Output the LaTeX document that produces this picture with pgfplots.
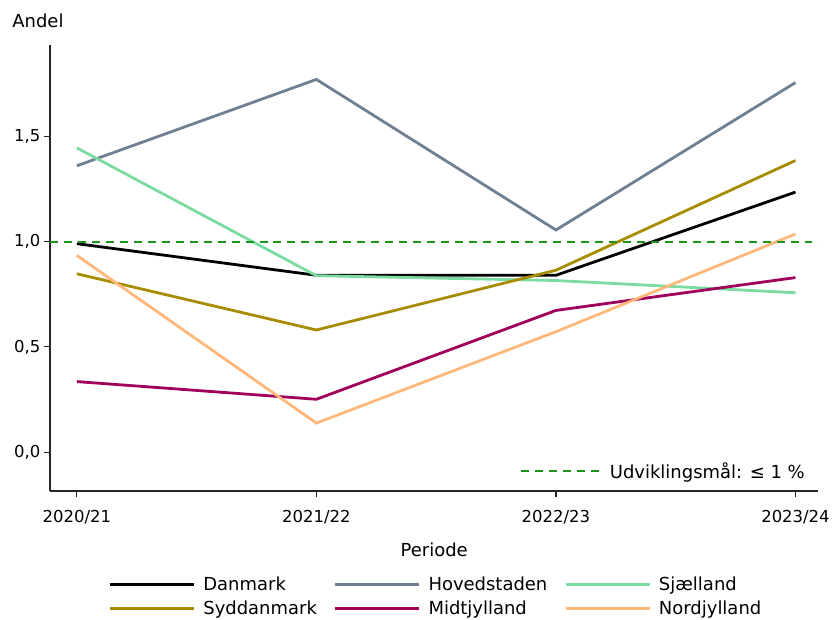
\documentclass[border=0pt]{standalone}
\usepackage{pgfplots}
\pgfplotsset{compat=1.18}
\usepackage{fontspec}
\setmainfont{DejaVu Sans}
\definecolor{cDK}{RGB}{0,0,0}
\definecolor{cHS}{RGB}{110,128,145}
\definecolor{cSJ}{RGB}{123,219,160}
\definecolor{cSD}{RGB}{168,140,0}
\definecolor{cMJ}{RGB}{160,0,90}
\definecolor{cNJ}{RGB}{255,184,122}
\definecolor{cGoal}{RGB}{26,150,26}
\begin{document}
\begin{tikzpicture}[font=\fontsize{18bp}{21bp}\selectfont]
\pgfplotsset{
  base/.style={
    width=770bp, height=447bp, scale only axis,
    xmin=-0.1125, xmax=3.096,
    ymin=-0.185, ymax=1.934,
  }
}
\begin{axis}[base, name=main,
  axis lines*=left,
  axis line style={black!85, line width=1.2bp},
  tick style={black!85, line width=1.2bp},
  tick align=outside,
  major tick length=6bp,
  xtick={0,1,2,3},
  xticklabels={2020/21,2021/22,2022/23,2023/24},
  ytick={0,0.5,1,1.5},
  yticklabel style={/pgf/number format/.cd, fixed, fixed zerofill, precision=1, use comma, assume math mode=true},
  ticklabel style={font=\fontsize{16.5bp}{19bp}\selectfont},
  xticklabel style={yshift=-10bp},
  xlabel={Periode},
  xlabel style={yshift=-12bp},
  legend columns=3,
  legend style={at={(0.503,-0.185)}, anchor=north, draw=none, fill=none,
    inner sep=0pt, row sep=2bp,
    /tikz/every odd column/.append style={column sep=5bp},
    /tikz/every even column/.append style={column sep=14bp},
    nodes={inner sep=3bp, text depth=0.2em}},
  legend cell align=left,
  legend image code/.code={\draw[#1] (0bp,0bp) -- (84bp,0bp);},
  every axis plot/.append style={line width=2.8bp},
]
\addplot[cDK] coordinates {(0,0.990) (1,0.840) (2,0.840) (3,1.235)};
\addlegendentry{Danmark}
\addplot[cHS] coordinates {(0,1.360) (1,1.770) (2,1.055) (3,1.755)};
\addlegendentry{Hovedstaden}
\addplot[cSJ] coordinates {(0,1.445) (1,0.838) (2,0.815) (3,0.757)};
\addlegendentry{Sjælland}
\addplot[cSD] coordinates {(0,0.847) (1,0.580) (2,0.864) (3,1.385)};
\addlegendentry{Syddanmark}
\addplot[cMJ] coordinates {(0,0.335) (1,0.251) (2,0.673) (3,0.829)};
\addlegendentry{Midtjylland}
\addplot[cNJ] coordinates {(0,0.934) (1,0.138) (2,0.572) (3,1.036)};
\addlegendentry{Nordjylland}
\end{axis}
\begin{axis}[base, hide axis,
  legend style={at={(0.985,0.02)}, anchor=south east, draw=none, fill=none, inner sep=0pt,
    /tikz/every odd column/.append style={column sep=6bp},
    nodes={inner sep=2bp}},
  legend image code/.code={\draw[#1] (0bp,0bp) -- (80bp,0bp);},
]
\addplot[cGoal, line width=2bp, dash pattern=on 8bp off 6bp] coordinates {(-0.1125,1) (3.096,1)};
\addlegendentry{Udviklingsmål: ≤ 1 \%}
\end{axis}
\node[anchor=base, inner sep=0pt] at ([xshift=-12bp,yshift=17bp]main.north west) {Andel};
\path ([xshift=-50bp,yshift=45bp]main.north west);
\end{tikzpicture}
\end{document}
